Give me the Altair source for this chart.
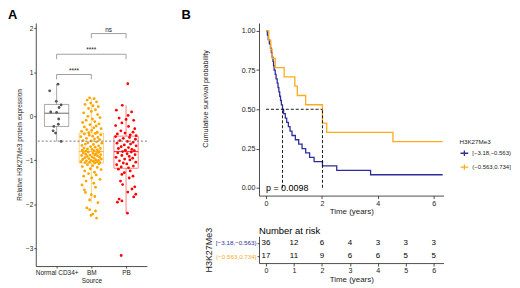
import altair as alt
import pandas as pd

FONT = "Liberation Sans"
GREY = "#555555"
ORANGE = "#FFA500"
RED = "#FF0000"
BLUE = "#2E2E9A"
KM_ORANGE = "#FFAA1D"
INK = "#222222"

# ---------------- Panel A data ----------------
groups = ["Normal CD34+", "BM", "PB"]
group_colors = [GREY, ORANGE, RED]

normal_vals = [0.73, 0.58, 0.34, 0.26, 0.20, 0.10, 0.09, -0.06, -0.18, -0.23, -0.33, -0.38, -0.57]
normal_jit = [0.04, -0.20, -0.01, 0.13, 0.07, -0.17, 0.00, 0.06, 0.05, -0.08, -0.10, -0.03, 0.13]

bm_vals = [0.42, 0.40, 0.37, 0.33, 0.30, 0.27, 0.24, 0.22, 0.18, 0.15, 0.11, 0.08, 0.04, 0.00, -0.03,
           -0.06, -0.09, -0.12, -0.14, -0.17, -0.19, -0.22, -0.24, -0.26, -0.28, -0.30, -0.32, -0.34, -0.36, -0.37,
           -0.39, -0.40, -0.42, -0.43, -0.45, -0.46, -0.48, -0.50, -0.51, -0.53, -0.55, -0.56, -0.58, -0.60, -0.61,
           -0.63, -0.64, -0.66, -0.67, -0.69, -0.70, -0.72, -0.73, -0.74, -0.75, -0.76, -0.77, -0.78, -0.79, -0.80,
           -0.81, -0.82, -0.83, -0.84, -0.85, -0.86, -0.87, -0.88, -0.88, -0.89, -0.90, -0.91, -0.92, -0.93, -0.94,
           -0.95, -0.96, -0.97, -0.98, -0.99, -1.00, -1.00, -1.01, -1.02, -1.03, -1.03, -1.04, -1.05, -1.05, -1.06,
           -1.08, -1.10, -1.12, -1.14, -1.16, -1.19, -1.21, -1.24, -1.27, -1.30, -1.33, -1.36, -1.40, -1.43, -1.47,
           -1.52, -1.56, -1.61, -1.67, -1.73, -1.78, -1.82, -1.96, -2.08, -2.12, -2.15, -2.22, -2.25, -2.31, -1.90]
bm_jit = [-0.05, 0.08, -0.12, 0.15, -0.02, -0.18, 0.05, 0.20, -0.08, 0.12, 0.00, -0.22, 0.18, -0.10, 0.25,
          0.03, -0.15, 0.10, -0.25, 0.22, -0.04, 0.14, -0.20, 0.07, 0.28, -0.13, 0.01, -0.28, 0.17, -0.07,
          0.12, -0.20, 0.27, -0.06, 0.04, -0.30, 0.19, -0.14, 0.09, 0.24, -0.24, 0.00, 0.15, -0.10, 0.30,
          -0.17, 0.06, -0.27, 0.21, -0.02, 0.11, -0.21, 0.26, -0.11, 0.02, 0.17, -0.26, 0.08, -0.16, 0.23,
          -0.09, 0.20, -0.23, 0.05, 0.14, -0.16, 0.27, -0.04, 0.10, -0.28, 0.18, -0.12, 0.02, 0.24, -0.19,
          0.08, -0.07, 0.29, -0.25, 0.13, -0.01, 0.21, -0.14, 0.06, -0.30, 0.16, -0.05, 0.25, -0.18, 0.10,
          0.22, -0.11, 0.04, -0.26, 0.17, -0.03, 0.28, -0.19, 0.09, -0.08, 0.14, -0.22, 0.01, 0.25, -0.15,
          0.07, -0.27, 0.12, -0.20, -0.17, 0.00, 0.10, 0.19, -0.13, -0.05, 0.12, 0.04, -0.01, 0.15, -0.05]

pb_vals = [0.74, 0.25, 0.14, 0.10, 0.02, -0.04, -0.07, -0.09, -0.15, -0.21, -0.23, -0.28, -0.33, -0.36, -0.38,
           -0.40, -0.42, -0.44,
           -0.46, -0.48, -0.50, -0.52, -0.55, -0.57, -0.59, -0.61, -0.63, -0.65, -0.67, -0.69, -0.71, -0.73,
           -0.75, -0.77, -0.78, -0.80,
           -0.81, -0.83, -0.85, -0.87, -0.89, -0.91, -0.93, -0.95, -0.97, -0.99, -1.01, -1.04, -1.06, -1.08,
           -1.10, -1.13, -1.15, -1.17,
           -1.20, -1.24, -1.28, -1.32, -1.36, -1.40, -1.47, -1.55, -1.60, -1.65, -1.72, -1.77, -1.83, -1.88,
           -1.92, -1.95, -2.20, -3.16]
pb_jit = [0.05, -0.11, -0.28, 0.16, 0.06, -0.20, 0.00, 0.22, -0.12, -0.30, 0.07, 0.25, -0.15, 0.20, -0.03,
          -0.25, 0.12, 0.29,
          -0.30, 0.10, -0.08, 0.27, -0.18, 0.04, 0.20, -0.26, 0.13, -0.05, 0.29, -0.14, 0.07, -0.22,
          0.17, -0.02, 0.24, -0.10,
          0.15, -0.24, 0.03, 0.26, -0.12, 0.09, -0.29, 0.19, -0.04, 0.11, -0.19, 0.28, -0.08, 0.02,
          -0.27, 0.21, -0.14, 0.07,
          -0.22, 0.12, -0.05, -0.12, 0.20, 0.09, -0.16, -0.10, 0.25, 0.17, 0.05, 0.28, 0.22, -0.20,
          -0.12, -0.25, 0.04, -0.14]

box_lo = [-0.57, -1.96, -2.20]
box_q1 = [-0.23, -1.06, -1.18]
box_med = [0.07, -0.80, -0.80]
box_q3 = [0.27, -0.38, -0.45]
box_hi = [0.73, 0.42, 0.25]

cutoff_value = -0.563

bracket_from = [1, 1, 2]
bracket_to = [2, 3, 3]
bracket_y = [0.95, 1.41, 1.88]
bracket_label = ["****", "****", "ns"]

# ---------------- Panel B data ----------------
lab_low = "[\u22123.18,\u22120.563)"
lab_high = "(\u22120.563,0.734]"

blue_t = [0, 0.05, 0.08, 0.12, 0.16, 0.19, 0.22, 0.25, 0.27, 0.29, 0.33, 0.36, 0.40, 0.43, 0.46, 0.49, 0.52,
          0.55, 0.59, 0.63, 0.69, 0.74, 0.80, 0.86, 0.93, 1.05, 1.17, 1.29, 1.42, 1.56, 1.72, 2.02, 2.53, 3.74]
blue_s = [1.000, 0.972, 0.944, 0.917, 0.889, 0.861, 0.833, 0.806, 0.778, 0.750, 0.722, 0.694, 0.667, 0.639,
          0.611, 0.583, 0.556, 0.528, 0.500, 0.472, 0.444, 0.417, 0.389, 0.361, 0.333, 0.306, 0.278, 0.250,
          0.222, 0.194, 0.167, 0.139, 0.111, 0.083]
orange_t = [0, 0.10, 0.17, 0.22, 0.33, 0.65, 1.03, 1.12, 1.42, 2.02, 2.17, 4.54]
orange_s = [1.000, 0.941, 0.882, 0.824, 0.765, 0.706, 0.647, 0.588, 0.529, 0.412, 0.353, 0.294]
end_time = 6.32
median_times = [0.59, 2.02]
p_label = "p = 0.0098"

risk_times = [0, 1, 2, 3, 4, 5, 6]
risk_low = [36, 12, 6, 4, 3, 3, 3]
risk_high = [17, 11, 9, 6, 6, 5, 5]

# ---------------- tables ----------------
pts_rows = []
for gi, (vals, jits) in enumerate([(normal_vals, normal_jit), (bm_vals, bm_jit), (pb_vals, pb_jit)]):
    for v, j in zip(vals, jits):
        pts_rows.append({"group": groups[gi], "pos": gi + 1 + j, "value": v})
pts = pd.DataFrame(pts_rows)

BOX_HALF = 0.35
box = pd.DataFrame({
    "group": groups, "idx": [1, 2, 3], "lo": box_lo, "q1": box_q1, "med": box_med,
    "q3": box_q3, "hi": box_hi,
})
box["left"] = box["idx"] - BOX_HALF
box["right"] = box["idx"] + BOX_HALF

TICK = 0.11
seg_rows = []
for a, b, yv in zip(bracket_from, bracket_to, bracket_y):
    seg_rows += [
        {"x": a, "x2": a, "y": yv - TICK, "y2": yv},
        {"x": a, "x2": b, "y": yv, "y2": yv},
        {"x": b, "x2": b, "y": yv - TICK, "y2": yv},
    ]
segs = pd.DataFrame(seg_rows)
blabels = pd.DataFrame({"x": [(a + b) / 2 for a, b in zip(bracket_from, bracket_to)],
                        "y": bracket_y, "label": bracket_label})
one = pd.DataFrame({"k": [0]})

km_rows = []
for lab, ts, ss in [(lab_low, blue_t, blue_s), (lab_high, orange_t, orange_s)]:
    for t, s in zip(ts, ss):
        km_rows.append({"grp": lab, "t": t, "s": s})
    km_rows.append({"grp": lab, "t": end_time, "s": ss[-1]})
km_df = pd.DataFrame(km_rows)

dash_rows = [{"x": 0, "x2": max(median_times), "y": 0.5, "y2": 0.5}]
for m in median_times:
    dash_rows.append({"x": m, "x2": m, "y": 0.0, "y2": 0.5})
dash_df = pd.DataFrame(dash_rows)

risk_rows = []
for lab, ns in [(lab_low, risk_low), (lab_high, risk_high)]:
    for t, n in zip(risk_times, ns):
        risk_rows.append({"grp": lab, "t": t, "n": n})
risk_df = pd.DataFrame(risk_rows)

# ---------------- Panel A ----------------
label_expr = " : ".join(
    [f"datum.value == {i + 1} ? '{g}'" for i, g in enumerate(groups[:-1])] + [f"'{groups[-1]}'"]
)
xA_axis = alt.Axis(values=[1, 2, 3], labelExpr=label_expr, title="Source", labelFontSize=6.5,
                   titleFontSize=6.5, tickSize=2, labelPadding=2, titlePadding=1)
yA_axis = alt.Axis(values=[-3, -2, -1, 0, 1, 2], title="Relative H3K27Me3 protein expression",
                   labelFontSize=6.5, titleFontSize=6.5, tickSize=2, labelPadding=1, titlePadding=3)
xA_scale = alt.Scale(domain=[0.4, 3.6], nice=False, zero=False)
yA_scale = alt.Scale(domain=[-3.4, 2.12], nice=False, zero=False)
cA = alt.Color("group:N", scale=alt.Scale(domain=groups, range=group_colors), legend=None)


def XA(field):
    return alt.X(field, type="quantitative", scale=xA_scale, axis=xA_axis, title="Source")


def YA(field):
    return alt.Y(field, type="quantitative", scale=yA_scale, axis=yA_axis,
                 title="Relative H3K27Me3 protein expression")


box_rect = alt.Chart(box).mark_rect(filled=False, strokeWidth=1, strokeOpacity=0.5).encode(
    x=XA("left"), x2="right", y=YA("q1"), y2="q3", color=cA)
wh_top = alt.Chart(box).mark_rule(strokeWidth=1, opacity=0.5).encode(
    x=XA("idx"), y=YA("q3"), y2="hi", color=cA)
wh_bot = alt.Chart(box).mark_rule(strokeWidth=1, opacity=0.5).encode(
    x=XA("idx"), y=YA("lo"), y2="q1", color=cA)
med = alt.Chart(box).mark_rule(strokeWidth=1.2, opacity=0.75).encode(
    x=XA("left"), x2="right", y=YA("med"), color=cA)
points = alt.Chart(pts).mark_circle(size=8, opacity=1).encode(
    x=XA("pos"), y=YA("value"), color=cA)
cut = alt.Chart(one).mark_rule(color="#777777", strokeDash=[2, 2], strokeWidth=1).encode(
    y=alt.datum(cutoff_value))
br = alt.Chart(segs).mark_rule(color="#A0A0A0", strokeWidth=1).encode(
    x=XA("x"), x2="x2", y=YA("y"), y2="y2")
br_txt = alt.Chart(blabels).mark_text(fontSize=6.5, baseline="bottom", dy=-1, color=INK, font=FONT).encode(
    x=XA("x"), y=YA("y"), text="label:N")
letterA = alt.Chart(one).mark_text(text="A", fontSize=13, fontWeight="bold", align="left",
                                   baseline="top", font=FONT, color="black").encode(
    x=alt.value(-28), y=alt.value(-14))

panelA = alt.layer(box_rect, wh_top, wh_bot, med, points, cut, br, br_txt, letterA).properties(
    width=112, height=245)

# ---------------- Panel B: KM ----------------
xs_km = alt.Scale(domain=[-0.25, 6.35], nice=False, zero=False)
ys_km = alt.Scale(domain=[-0.05, 1.05], nice=False, zero=False)
xkm_axis = alt.Axis(values=risk_times, title="Time (years)", labelFontSize=7.2, titleFontSize=8,
                    tickSize=3, labelPadding=1, titlePadding=1)
ykm_axis = alt.Axis(values=[0, 0.25, 0.5, 0.75, 1.0], format=".2f", title="Cumulative survival probability",
                    labelFontSize=7.2, titleFontSize=7.3, tickSize=3, labelPadding=1,
                    titleX=-50, titleY=76)


def XK(field):
    return alt.X(field, type="quantitative", scale=xs_km, axis=xkm_axis, title="Time (years)")


def YK(field):
    return alt.Y(field, type="quantitative", scale=ys_km, axis=ykm_axis,
                 title="Cumulative survival probability")


km_color = alt.Color("grp:N", scale=alt.Scale(domain=[lab_low, lab_high], range=[BLUE, KM_ORANGE]),
                     legend=alt.Legend(title="H3K27Me3", orient="none", legendX=202, legendY=117,
                                       titleFontSize=6.3, labelFontSize=6.0, titleFont=FONT, labelFont=FONT,
                                       titleFontWeight="normal", titlePadding=3, rowPadding=2,
                                       symbolType="M-1,0H1M0,-0.7V0.7", symbolSize=60,
                                       symbolStrokeWidth=1.3, labelOffset=3, titleColor=INK,
                                       labelColor=INK))

km_lines = alt.Chart(km_df).mark_line(interpolate="step-after", strokeWidth=1.3).encode(
    x=XK("t"), y=YK("s"), color=km_color)
km_dash = alt.Chart(dash_df).mark_rule(color="black", strokeDash=[3, 2], strokeWidth=0.9).encode(
    x=XK("x"), x2="x2", y=YK("y"), y2="y2")
p_txt = alt.Chart(one).mark_text(text=p_label, align="left", baseline="middle", fontSize=9,
                                 font=FONT, color="black").encode(
    x=alt.datum(0), y=alt.datum(0))
letterB = alt.Chart(one).mark_text(text="B", fontSize=13, fontWeight="bold", align="left",
                                   baseline="top", font=FONT, color="black").encode(
    x=alt.value(-78), y=alt.value(-14))

km = alt.layer(km_lines, km_dash, p_txt, letterB).properties(width=186, height=174)

# ---------------- Panel B: risk table ----------------
risk_label_color = {"condition": {"test": f"datum.value === '{lab_low}'", "value": BLUE},
                    "value": KM_ORANGE}
table = alt.Chart(risk_df).mark_text(fontSize=8, color="black", font=FONT).encode(
    x=alt.X("t:Q", scale=xs_km, axis=alt.Axis(values=risk_times, title="Time (years)", labelFontSize=7.2,
                                               titleFontSize=8, tickSize=3, labelPadding=1,
                                               titlePadding=1)),
    y=alt.Y("grp:N", scale=alt.Scale(domain=[lab_low, lab_high]),
            axis=alt.Axis(title="H3K27Me3", labelFontSize=6.3, titleFontSize=9, tickSize=2,
                          labelPadding=1, titlePadding=2, labelColor=risk_label_color)),
    text="n:Q",
).properties(width=186, height=27,
             title=alt.Title("Number at risk", anchor="start", frame="group", fontSize=9.5,
                             fontWeight="normal", offset=-8, font=FONT, color="black"))

right = alt.vconcat(km, table, spacing=41, bounds="flush")

chart = alt.hconcat(panelA, right, spacing=113, bounds="flush").resolve_scale(
    color="independent"
).properties(padding=0).configure_view(stroke=None).configure_axis(
    grid=False, labelFont=FONT, titleFont=FONT, domainColor=INK, tickColor=INK,
    labelColor=INK, titleColor=INK, titleFontWeight="normal", domainWidth=0.8, tickWidth=0.8
).configure_text(font=FONT)

chart.save("out.html", embed_options={"renderer": "svg", "actions": False})
